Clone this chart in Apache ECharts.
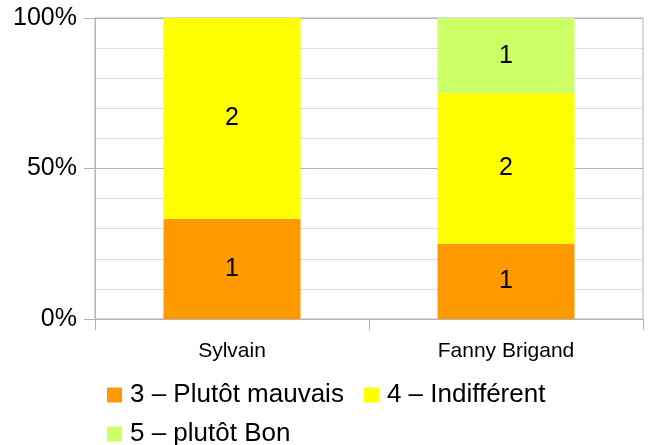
<!DOCTYPE html>
<html>
<head>
<meta charset="utf-8">
<script src="https://cdn.jsdelivr.net/npm/echarts@6/dist/echarts.min.js"></script>
<style>
  html, body { margin: 0; padding: 0; background: #fff; }
  #chart { width: 648px; height: 445px; }
</style>
</head>
<body>
<div id="chart"></div>
<script>
const categories = ['Sylvain', 'Fanny Brigand']
const seriesNames = ['3 – Plutôt mauvais', '4 – Indifférent', '5 – plutôt Bon']
const mauvais = [1, 1]
const indifferent = [2, 2]
const bon = [0, 1]
const colors = ['#ff9900', '#ffff00', '#ccff66']
const yTicks = [0, 50, 100]

const counts = [mauvais, indifferent, bon]
const totals = categories.map((_, i) => counts.reduce((s, arr) => s + arr[i], 0))

const font = 'Liberation Sans, Arial, sans-serif'
const legendText = { color: '#000', fontSize: 26, fontFamily: font, padding: [0, 0, 0, 3] }

const chart = echarts.init(document.getElementById('chart'))

chart.setOption({
  animation: false,
  grid: {
    left: 95, right: 5, top: 18, bottom: 126,
    show: true, borderColor: '#b3b3b3', borderWidth: 1
  },
  legend: [
    {
      data: seriesNames.slice(0, 2), left: 102, top: 377,
      itemWidth: 15, itemHeight: 15, itemGap: 20, icon: 'rect',
      textStyle: legendText
    },
    {
      data: seriesNames.slice(2), left: 102, top: 416,
      itemWidth: 15, itemHeight: 15, icon: 'rect',
      textStyle: legendText
    }
  ],
  xAxis: {
    type: 'category', data: categories,
    axisLine: { lineStyle: { color: '#b3b3b3' } },
    axisTick: { show: true, length: 11, lineStyle: { color: '#b3b3b3' } },
    axisLabel: { color: '#000', fontSize: 21, fontFamily: font, margin: 22 },
    splitLine: { show: false }
  },
  yAxis: {
    type: 'value', min: 0, max: 100, interval: 50,
    axisLine: { show: true, lineStyle: { color: '#b3b3b3' } },
    axisTick: { show: true, length: 11, lineStyle: { color: '#b3b3b3' } },
    axisLabel: {
      color: '#000', fontSize: 25, fontFamily: font, margin: 18,
      formatter: v => yTicks.includes(v) ? v + '%' : ''
    },
    splitLine: { lineStyle: { color: '#b3b3b3' } },
    minorTick: { show: false, splitNumber: 5 },
    minorSplitLine: { show: true, lineStyle: { color: '#dddddd' } }
  },
  series: counts.map((arr, k) => ({
    name: seriesNames[k],
    type: 'bar',
    stack: 'total',
    barWidth: '50%',
    itemStyle: { color: colors[k] },
    data: arr.map((v, i) => v / totals[i] * 100),
    label: {
      show: true, position: 'inside',
      color: '#000', fontSize: 25, fontFamily: font,
      formatter: p => arr[p.dataIndex] ? String(arr[p.dataIndex]) : ''
    }
  }))
})
</script>
</body>
</html>
